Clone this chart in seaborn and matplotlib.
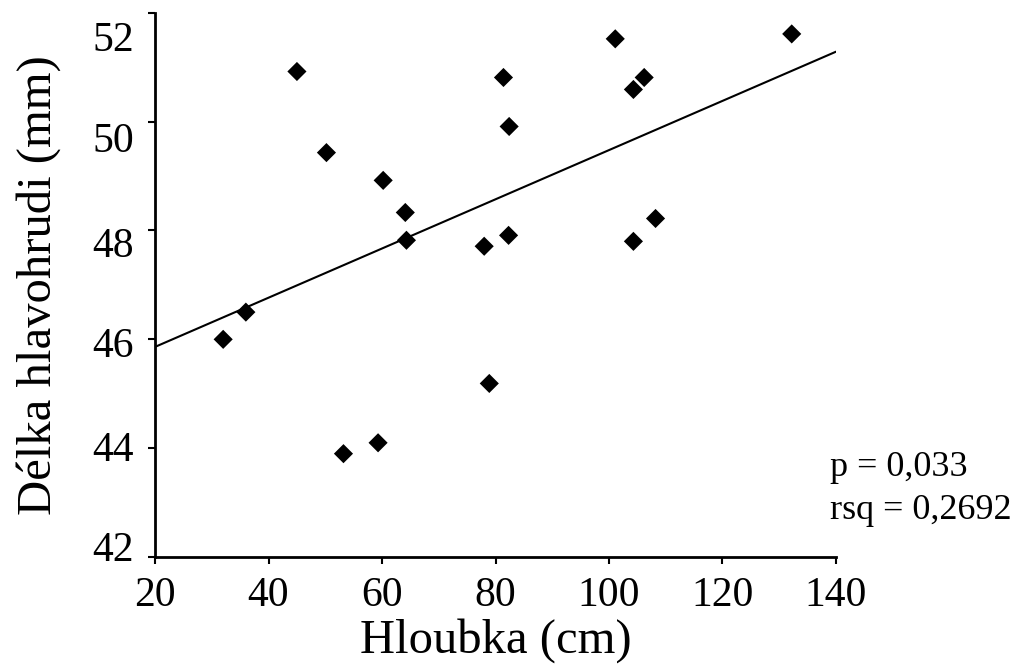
import matplotlib
matplotlib.use("Agg")
import matplotlib.pyplot as plt
import seaborn as sns
import pandas as pd

hloubka = [32.0, 36.0, 45.0, 50.2, 53.2, 59.3, 60.2, 64.1, 64.3, 78.0,
           78.9, 81.4, 82.4, 82.3, 101.1, 104.3, 106.2, 104.3, 108.2, 132.2]
delka = [46.0, 46.5, 50.92, 49.43, 43.9, 44.1, 48.92, 48.33, 47.82, 47.71,
         45.19, 50.81, 49.91, 47.91, 51.52, 50.59, 50.81, 47.80, 48.22, 51.61]
x_ticks = [20, 40, 60, 80, 100, 120, 140]
y_ticks = [42, 44, 46, 48, 50, 52]
y_tick_labels = ["42", "44", "46", "48", "50", "52"]
# in the reference the y labels sit slightly off their tick marks
y_label_pos = [42.2, 44.04, 45.94, 47.78, 49.71, 51.56]

df = pd.DataFrame({"Hloubka": hloubka, "Delka": delka})

sns.set_theme(style="ticks")
plt.rcParams['font.family'] = ['Liberation Serif', 'DejaVu Serif']

fig = plt.figure(figsize=(10.27, 6.68), dpi=100)
ax = fig.add_axes([0.151, 0.166, 0.663, 0.815])
ax.set_xlim(20, 140)
ax.set_ylim(42, 52)

sns.regplot(data=df, x="Hloubka", y="Delka", ax=ax, ci=None, truncate=False,
            marker="D", color="black",
            scatter_kws={"s": 95, "color": "black", "edgecolors": "none", "alpha": 1},
            line_kws={"color": "black", "linewidth": 1.5})

ax.set_xlim(20, 140)
ax.set_ylim(42, 52)
ax.set_xticks(x_ticks)
ax.set_yticks(y_ticks)
ax.set_yticklabels([])
ax.set_yticks(y_label_pos, minor=True)
ax.set_yticklabels(y_tick_labels, minor=True)
ax.tick_params(axis="both", which="major", labelsize=30, length=5, width=1.5,
               color="black", labelcolor="black")
ax.tick_params(axis="x", which="major", pad=9)
ax.tick_params(axis="y", which="minor", labelsize=30, length=0, pad=15,
               labelcolor="black")
for side in ["top", "right"]:
    ax.spines[side].set_visible(False)
for side in ["left", "bottom"]:
    ax.spines[side].set_linewidth(2)
    ax.spines[side].set_color("black")

ax.set_xlabel("Hloubka (cm)", fontsize=35, color="black", labelpad=2)
ax.set_ylabel("Délka hlavohrudi (mm)", fontsize=35, color="black", labelpad=23)

fig.text(0.808, 0.30, "p = 0,033", fontsize=26, color="black", va="center", ha="left")
fig.text(0.808, 0.236, "rsq = 0,2692", fontsize=26, color="black", va="center", ha="left")

fig.savefig("out.png", dpi=100)
